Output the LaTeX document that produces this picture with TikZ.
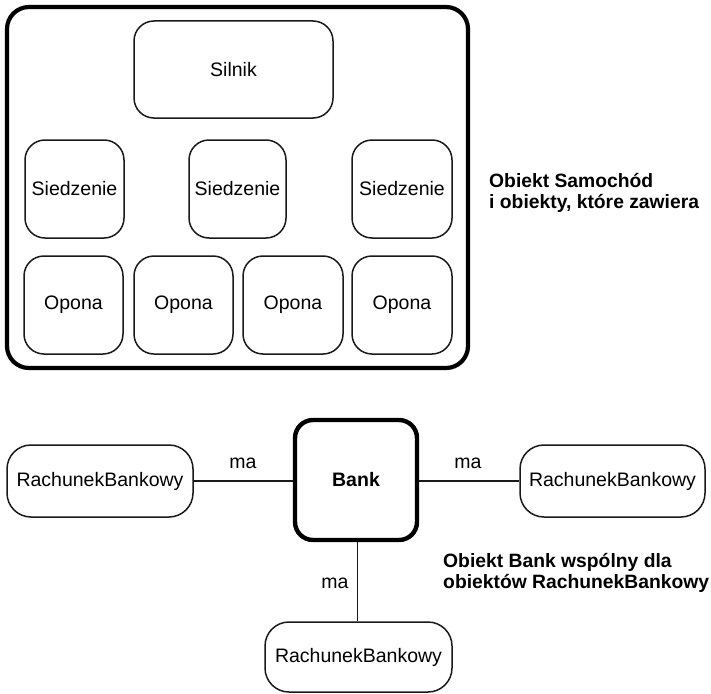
\documentclass[tikz,border=0pt]{standalone}
\usepackage{fontspec}
\setmainfont{Liberation Sans}
\begin{document}
\begin{tikzpicture}[x=1pt,y=-1pt,
  every node/.style={font=\fontsize{19.5}{21.5}\selectfont, text=black, inner sep=0pt},
  part/.style={draw=black!90, line width=1.5pt, rounded corners=20pt},
  whole/.style={draw=black, line width=4.2pt, rounded corners=22pt},
  acct/.style={part, rounded corners=24pt, minimum width=186pt, minimum height=72pt},
  small/.style={part, minimum height=98pt},
  link/.style={draw=black!90, line width=1.5pt},
  note/.style={font=\fontsize{19.3}{21}\selectfont\bfseries, align=left, anchor=west}
]
\useasboundingbox (0,0) rectangle (711,693);

% car object and the parts it contains
\node[whole, minimum width=461pt, minimum height=361pt] (car) at (237.5,187.5) {};
\node[part, minimum width=199pt, minimum height=97pt] (silnik) at (233.5,69.5) {Silnik};
\node[small, minimum width=99pt] (seat1) at (74.5,189) {Siedzenie};
\node[small, minimum width=97pt] (seat2) at (237.5,189) {Siedzenie};
\node[small, minimum width=100pt] (seat3) at (402,189) {Siedzenie};
\node[small, minimum width=99pt] (tire1) at (73.5,305) {Opona};
\node[small, minimum width=99pt] (tire2) at (183.5,305) {Opona};
\node[small, minimum width=100pt] (tire3) at (293,305) {Opona};
\node[small, minimum width=100pt] (tire4) at (402,305) {Opona};
\node[note] (carnote) at (489,193) {Obiekt Samochód\\i obiekty, które zawiera};

% bank shared by the accounts
\node[whole, line width=4.4pt, rounded corners=18pt, minimum width=122pt, minimum height=120pt,
      font=\fontsize{19.5}{21.5}\selectfont\bfseries] (bank) at (356,480) {Bank};
\node[acct] (accL) at (100,481) {RachunekBankowy};
\node[acct, minimum width=185pt] (accR) at (612.5,481) {RachunekBankowy};
\node[acct, minimum width=187pt, minimum height=70pt] (accB) at (358.5,657) {RachunekBankowy};

\draw[link] (accL.east) -- (accL.east -| bank.west);
\draw[link] (bank.east |- accR.west) -- (accR.west);
\draw[link] (bank.south -| 357.5,0) coordinate (bs) -- (bs |- accB.north);

\node (maL) at (243,463) {ma};
\node (maR) at (468,463) {ma};
\node (maB) at (335,583) {ma};

\node[note] (banknote) at (443,573) {Obiekt Bank wspólny dla\\obiektów RachunekBankowy};
\end{tikzpicture}
\end{document}
